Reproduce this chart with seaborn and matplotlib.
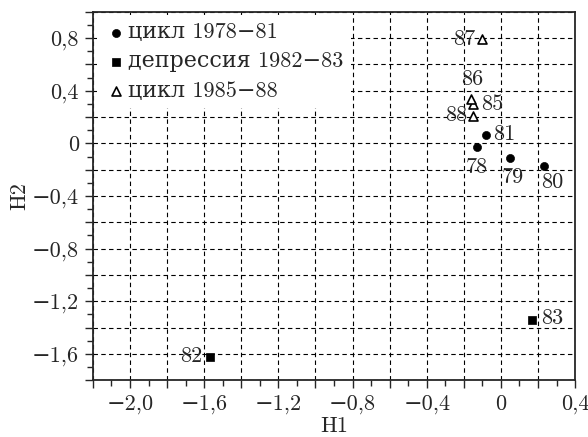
import pandas as pd
import seaborn as sns
import matplotlib.pyplot as plt
from matplotlib.ticker import MultipleLocator, FuncFormatter

# Data
years_a = ["78", "79", "80", "81"]
h1_a = [-0.13, 0.05, 0.23, -0.08]
h2_a = [-0.03, -0.11, -0.17, 0.06]

years_b = ["82", "83"]
h1_b = [-1.57, 0.17]
h2_b = [-1.62, -1.34]

years_c = ["85", "86", "87", "88"]
h1_c = [-0.15, -0.16, -0.10, -0.15]
h2_c = [0.30, 0.34, 0.79, 0.21]

group_names = ["цикл 1978−81", "депрессия 1982−83", "цикл 1985−88"]

sns.set_style("ticks")
plt.rcParams['font.family'] = ['cmr10', 'DejaVu Serif']
plt.rcParams['font.size'] = 16

df_a = pd.DataFrame({'H1': h1_a, 'H2': h2_a, 'year': years_a})
df_b = pd.DataFrame({'H1': h1_b, 'H2': h2_b, 'year': years_b})
df_c = pd.DataFrame({'H1': h1_c, 'H2': h2_c, 'year': years_c})

fig, ax = plt.subplots(figsize=(5.88, 4.37), dpi=100)

sns.scatterplot(data=df_a, x='H1', y='H2', marker='o', s=34, color='black',
                edgecolor='black', label=group_names[0], ax=ax, zorder=3)
sns.scatterplot(data=df_b, x='H1', y='H2', marker='s', s=40, color='black',
                edgecolor='black', label=group_names[1], ax=ax, zorder=3)
sns.scatterplot(data=df_c, x='H1', y='H2', marker='^', s=42, facecolor='white',
                edgecolor='black', linewidth=1.2, label=group_names[2], ax=ax, zorder=3)

# подписи точек (смещение в пунктах)
offsets = {
    "78": (0, -14, 'center'), "79": (2, -14, 'center'),
    "80": (6, -12, 'center'), "81": (5, 1, 'left'),
    "82": (-5, 0, 'right'), "83": (6, 1, 'left'),
    "85": (6, 0, 'left'), "86": (1, 14, 'center'),
    "87": (-5, 0, 'right'), "88": (-4, 0, 'right'),
}
for d in (df_a, df_b, df_c):
    for _, r in d.iterrows():
        dx, dy, ha = offsets[r['year']]
        ax.annotate(r['year'], (r['H1'], r['H2']), xytext=(dx, dy),
                    textcoords='offset points', ha=ha, va='center',
                    fontsize=16, zorder=4)

ax.set_xlim(-2.2, 0.4)
ax.set_ylim(-1.8, 1.0)


def fmt(v, pos):
    if abs(round(v / 0.4) * 0.4 - v) > 1e-6:
        return ''
    if abs(v) < 1e-9:
        return '0'
    return ('%.1f' % v).replace('.', ',').replace('-', '−')


ax.xaxis.set_major_locator(MultipleLocator(0.2))
ax.yaxis.set_major_locator(MultipleLocator(0.2))
ax.xaxis.set_minor_locator(MultipleLocator(0.1))
ax.yaxis.set_minor_locator(MultipleLocator(0.1))
ax.xaxis.set_major_formatter(FuncFormatter(fmt))
ax.yaxis.set_major_formatter(FuncFormatter(fmt))
ax.tick_params(which='major', length=6, width=1, labelsize=16, pad=4)
ax.tick_params(which='minor', length=4, width=1)
ax.grid(True, which='major', color='black', linestyle=(0, (4, 3)), linewidth=0.8)
for sp in ax.spines.values():
    sp.set_linewidth(1.3)

ax.set_xlabel('H1', fontsize=16, labelpad=2)
ax.set_ylabel('H2', fontsize=16, labelpad=2)

leg = ax.legend(loc='upper left', frameon=True, fancybox=False, framealpha=1,
                edgecolor='none', facecolor='white', handletextpad=0.0,
                handlelength=1.1, borderaxespad=0.2, labelspacing=0.42,
                borderpad=0.3, prop={'family': ['cmr10', 'DejaVu Serif'], 'size': 16})
leg.set_zorder(5)

plt.subplots_adjust(left=0.158, right=0.978, top=0.973, bottom=0.13)
plt.savefig('out.png', dpi=100)
